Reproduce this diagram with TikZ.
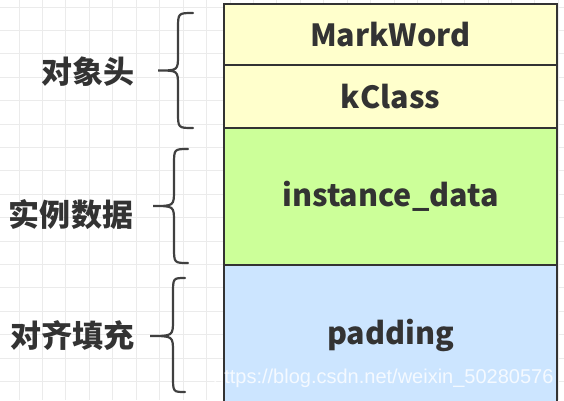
\documentclass[tikz,border=0pt]{standalone}
\usepackage{fontspec}
\newfontfamily\cjk{Noto Sans CJK SC}
\setmainfont{Liberation Sans}
\definecolor{gridc}{HTML}{EBEBEB}
\definecolor{inkc}{HTML}{333333}
\definecolor{bracec}{HTML}{404040}
\definecolor{yelc}{HTML}{FFFFCC}
\definecolor{grnc}{HTML}{CCFF99}
\definecolor{bluc}{HTML}{CCE5FF}
\tikzset{
  row/.style={draw=inkc, line width=2pt, minimum width=333pt, inner sep=0pt, anchor=center,
    text=inkc, font=\cjk\bfseries\fontsize{30.5}{30.5}\selectfont},
  lbl/.style={text=inkc, inner sep=0pt, font=\cjk\bfseries\fontsize{31}{31}\selectfont},
  bracepath/.style={draw=bracec, line width=2.2pt, line cap=round},
  gridline/.style={draw=gridc, line width=1pt}
}
\begin{document}
\begin{tikzpicture}[x=1pt,y=-1pt]
\useasboundingbox (0,0) rectangle (564,400);
\begin{scope}
\clip (0,0) rectangle (564,400);
% grid
\foreach \i in {0,...,23} {
  \draw[gridline] ({19+23.45*\i},0) -- ({19+23.45*\i},400);
}
\foreach \j in {0,...,16} {
  \draw[gridline] (0,{7+23.4*\j}) -- (564,{7+23.4*\j});
}
% rows
\node[row, fill=yelc, minimum height=61pt] (mw) at (390.5,34.5) {MarkWord};
\node[row, fill=yelc, minimum height=63pt] (kc) at (390.5,96.5) {kClass};
\node[row, fill=grnc, minimum height=137pt] (id) at (390.5,196.5) {instance\_data};
\node[row, fill=bluc, minimum height=140pt] (pd) at (390.5,335) {padding};
% braces
\coordinate (b1t) at (193,13); \coordinate (b1m) at (158,70.5); \coordinate (b1b) at (193,128);
\draw[bracepath] (b1t) .. controls (178,13) .. (178,29) -- (178,55)
  .. controls (178,70.5) .. (b1m) .. controls (178,70.5) .. (178,86) -- (178,112)
  .. controls (178,128) .. (b1b);
\coordinate (b2t) at (188,149); \coordinate (b2m) at (153,206); \coordinate (b2b) at (188,263);
\draw[bracepath] (b2t) .. controls (174,149) .. (174,165) -- (174,190)
  .. controls (174,206) .. (b2m) .. controls (174,206) .. (174,222) -- (174,247)
  .. controls (174,263) .. (b2b);
\coordinate (b3t) at (185,278); \coordinate (b3m) at (150,336); \coordinate (b3b) at (185,392);
\draw[bracepath] (b3t) .. controls (173,278) .. (173,294) -- (173,320)
  .. controls (173,336) .. (b3m) .. controls (173,336) .. (173,352) -- (173,376)
  .. controls (173,392) .. (b3b);
% labels
\node[lbl] (l1) at (88,71.5) {对象头};
\node[lbl] (l2) at (71,215) {实例数据};
\node[lbl] (l3) at (72,336) {对齐填充};
% watermark
\node[anchor=base west, inner sep=0pt, text=white, text opacity=0.8,
  font=\fontsize{20}{20}\selectfont] (wm) at (213,383) {https://blog.csdn.net/weixin\_50280576};
\end{scope}
\end{tikzpicture}
\end{document}
